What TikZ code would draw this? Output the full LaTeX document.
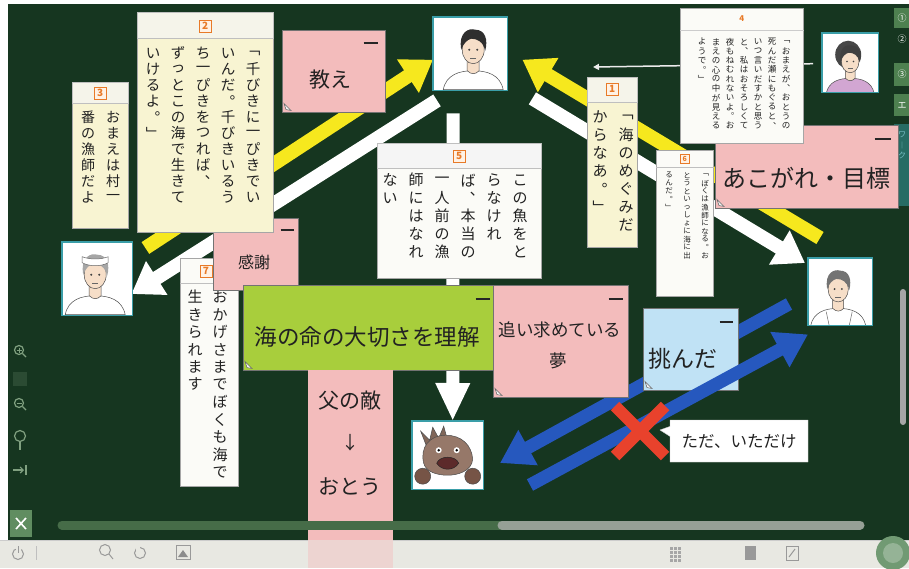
\documentclass[tikz,border=0pt]{standalone}
\usepackage{fontspec}
\setmainfont{Noto Sans CJK JP}
\usetikzlibrary{arrows.meta,shapes.callouts}

\definecolor{board}{RGB}{22,54,32}
\definecolor{cream}{RGB}{248,244,210}
\definecolor{creamhead}{RGB}{245,244,234}
\definecolor{paper}{RGB}{251,251,247}
\definecolor{pinknote}{RGB}{243,188,188}
\definecolor{greennote}{RGB}{168,206,60}
\definecolor{bluenote}{RGB}{192,226,245}
\definecolor{yel}{RGB}{246,232,30}
\definecolor{bluearr}{RGB}{38,88,190}
\definecolor{redx}{RGB}{232,66,44}
\definecolor{frame}{RGB}{58,158,168}
\definecolor{orangenum}{RGB}{232,122,40}
\definecolor{toolbar}{RGB}{232,232,226}
\definecolor{tabgreen}{RGB}{78,128,80}
\definecolor{tabteal}{RGB}{38,108,100}
\definecolor{ink}{RGB}{34,34,34}
\definecolor{skin}{RGB}{246,222,200}
\definecolor{fishb}{RGB}{150,120,105}
\definecolor{finc}{RGB}{118,84,70}
\definecolor{mouthc}{RGB}{92,42,42}
\definecolor{icon}{RGB}{128,160,128}
\definecolor{sbgreen}{RGB}{70,108,72}
\definecolor{sbgray}{RGB}{150,160,150}

% one column of vertical writing: #1 = cell size, #2 = characters
\makeatletter
\newcommand\tatecol[2]{\vtop{\offinterlineskip\def\tate@p{#1}\expandafter\tate@#2\@nil}}
\def\tate@#1{\ifx\@nil#1\else\hbox to \tate@p{\hss\vbox to \tate@p{\vss\hbox{#1}\vss}\hss}\expandafter\tate@\fi}
\makeatother

\tikzset{
  portrait/.pic={
    \filldraw[fill=shirtc, draw=black!70, line width=0.5pt]
      (-30,36) .. controls (-27,21) and (-14,17) .. (0,17) .. controls (14,17) and (27,21) .. (30,36) -- cycle;
    \filldraw[fill=skin, draw=black!70, line width=0.5pt]
      (-6,4) -- (-6,17) .. controls (-2,21) and (2,21) .. (6,17) -- (6,4) -- cycle;
    \filldraw[fill=skin, draw=black!70, line width=0.5pt] (0,-4) ellipse (11 and 14);
    \fill[hairc] (-12,-4) .. controls (-15,-22) and (-4,-26) .. (2,-24)
      .. controls (12,-24) and (15,-14) .. (12,-3) .. controls (10,-12) and (4,-15) .. (-2,-15)
      .. controls (-6,-14) and (-10,-10) .. cycle;
    \fill[black!75] (-4,-4) circle (1.1) (4,-4) circle (1.1);
    \draw[black!60, line width=0.5pt] (-3,5) -- (3,5);
  }
}

\begin{document}
\begin{tikzpicture}[x=1pt,y=-1pt,
  card/.style={draw=black!35, line width=0.5pt, fill=#1, inner sep=0pt, anchor=north west},
  headfill/.style={fill=creamhead, draw=black!25, line width=0.4pt},
  numbox/.style={draw=orangenum, line width=0.8pt, fill=white!90!orange, text=orangenum,
    font=\fontsize{10}{10}\selectfont\bfseries, inner sep=0pt, minimum size=12},
  tate/.style={inner sep=0pt, anchor=north, text=ink},
  note/.style={fill=#1, draw=black!55, line width=0.5pt, inner sep=0pt, anchor=north west},
  notetext/.style={text=ink, inner sep=0pt},
  minusmark/.style={line width=1.6pt, black!85},
  curl/.style={fill=white!92!gray, draw=black!60, line width=0.5pt},
  pbox/.style={fill=white, inner sep=0pt, anchor=north west},
  pframe/.style={draw=frame, line width=1.6pt},
  bigarrow/.style={line width=14pt, -{Triangle[length=30pt,width=38pt]}},
  bluearrow/.style={line width=13pt, bluearr, -{Triangle[length=32pt,width=38pt]}},
  iconline/.style={draw=icon, line width=1.2pt},
  tbicon/.style={draw=black!40, line width=1pt},
]
\useasboundingbox (0,0) rectangle (909,568);
\fill[white] (0,0) rectangle (909,568);
\fill[board] (8,4) rectangle (909,540);

% ---------- side tabs ----------
\fill[tabgreen] (894,8) rectangle (909,28);
\node[text=white!80, font=\fontsize{9}{9}\selectfont, inner sep=0pt] (tab1) at (902,18) {①};
\node[text=white!70, font=\fontsize{9}{9}\selectfont, inner sep=0pt] (tab2) at (902,39) {②};
\fill[tabgreen] (894,63) rectangle (909,86);
\node[text=white!80, font=\fontsize{9}{9}\selectfont, inner sep=0pt] (tab3) at (902,74) {③};
\fill[tabgreen] (894,94) rectangle (909,116);
\node[text=white!80, font=\fontsize{9}{9}\selectfont, inner sep=0pt] (tab4) at (902,105) {エ};
\fill[tabteal] (894,124) rectangle (909,206);
\node[text=frame!70!white, font=\fontsize{8}{8}\selectfont, inner sep=0pt, anchor=north] (tab5) at (902,130) {\tatecol{10pt}{ワ︱ク}};
\draw[line width=6pt, line cap=round, black!35] (903,292) -- (903,422);

% ---------- left tools ----------
\draw[iconline] (19,350) circle (4.5); \draw[iconline] (22.5,353.5) -- (26,357);
\draw[icon, line width=0.9pt] (16.5,350) -- (21.5,350) (19,347.5) -- (19,352.5);
\fill[board!80!icon] (13,372) rectangle (27,386);
\draw[iconline] (19,403) circle (4.5); \draw[iconline] (22.5,406.5) -- (26,410);
\draw[icon, line width=0.9pt] (16.5,403) -- (21.5,403);
\draw[iconline] (20,436) circle (5.5); \draw[iconline] (20,441.5) -- (20,450);
\draw[iconline, -{Straight Barb[length=3pt]}] (13,470) -- (24,470); \draw[iconline] (26,465) -- (26,475);
\fill[tabgreen!90!white] (10,510) rectangle (32,537);
\draw[white, line width=1.6pt] (16,518) -- (26,529) (26,518) -- (16,529);

% ---------- arrows behind the cards ----------
\node[pbox, minimum width=74, minimum height=73] (young) at (433,17) {};
\node[pbox, minimum width=70, minimum height=73] (oldman) at (62,242) {};
\node[pbox, minimum width=64, minimum height=67] (rightman) at (808,258) {};
\node[pbox, minimum width=56, minimum height=59] (woman) at (822,33) {};
\node[pbox, minimum width=71, minimum height=68] (fish) at (412,421) {};

\coordinate (yl0) at ([shift={(13,6)}]oldman.north east);
\coordinate (yl1) at ([shift={(0,6)}]young.west);
\coordinate (wl0) at ([shift={(4,10)}]young.south west);
\coordinate (wl1) at ([shift={(-1,52)}]oldman.north east);
\coordinate (yr0) at ([shift={(12,-20)}]rightman.north west);
\coordinate (yr1) at ([shift={(15,6)}]young.east);
\coordinate (wr0) at ([shift={(25,8)}]young.south east);
\coordinate (wr1) at ([shift={(-3,5)}]rightman.north west);
\coordinate (wd0) at ([shift={(-17,23)}]young.south);
\coordinate (wd1) at ([shift={(5,0)}]fish.north);
\coordinate (tw0) at ([shift={(-9,1)}]woman.west);
\coordinate (tw1) at (593,67);

\draw[bigarrow, yel] (yl0) -- (yl1);
\draw[bigarrow, white] (wl0) -- (wl1);
\draw[bigarrow, yel] (yr0) -- (yr1);
\draw[bigarrow, white] (wr0) -- (wr1);
\draw[line width=13pt, white, -{Triangle[length=38pt,width=32pt]}] (wd0) -- (wd1);
\draw[line width=1.5pt, white!85!gray, -{Triangle[length=6pt,width=6pt]}] (tw0) -- (tw1);

% ---------- portraits ----------
\begin{scope}
  \clip (young.north west) rectangle (young.south east);
  \colorlet{hairc}{black!82}\colorlet{shirtc}{white}
  \pic at ([shift={(3,0)}]young.center) {portrait};
\end{scope}
\draw[pframe] (young.north west) rectangle (young.south east);

\begin{scope}
  \clip (oldman.north west) rectangle (oldman.south east);
  \colorlet{hairc}{black!35}\colorlet{shirtc}{white}
  \pic at ([shift={(-2,0)}]oldman.center) {portrait};
  \filldraw[fill=white, draw=black!60, line width=0.5pt]
    ([shift={(-15,-16)}]oldman.center) .. controls ([shift={(-8,-12)}]oldman.center) and ([shift={(4,-12)}]oldman.center) .. ([shift={(11,-16)}]oldman.center)
    -- ([shift={(11,-22)}]oldman.center) .. controls ([shift={(4,-19)}]oldman.center) and ([shift={(-8,-19)}]oldman.center) .. ([shift={(-15,-22)}]oldman.center) -- cycle;
\end{scope}
\draw[pframe] (oldman.north west) rectangle (oldman.south east);

\begin{scope}
  \clip (rightman.north west) rectangle (rightman.south east);
  \colorlet{hairc}{black!55}\colorlet{shirtc}{white}
  \pic[scale=0.92] at ([shift={(-2,1)}]rightman.center) {portrait};
  \draw[black!60, line width=0.5pt] ([shift={(-14,20)}]rightman.center) -- ([shift={(-11,34)}]rightman.center)
    ([shift={(12,20)}]rightman.center) -- ([shift={(9,34)}]rightman.center);
\end{scope}
\draw[pframe] (rightman.north west) rectangle (rightman.south east);

\begin{scope}
  \clip (woman.north west) rectangle (woman.south east);
  \colorlet{hairc}{black!75}\colorlet{shirtc}{violet!35!white}
  \fill[black!72] ([shift={(-2,-8)}]woman.center) ellipse (13 and 14);
  \pic[scale=0.8] at ([shift={(0,2)}]woman.center) {portrait};
\end{scope}
\draw[pframe] (woman.north west) rectangle (woman.south east);

% fish
\begin{scope}[shift={(fish.center)}]
  \filldraw[fill=fishb!85!black, draw=black!70, line width=0.5pt]
    (-20,-6) -- (-27,-24) -- (-18,-15) -- (-15,-28) -- (-9,-17) -- (-4,-29) -- (-1,-18) -- cycle;
  \filldraw[fill=fishb, draw=black!70, line width=0.5pt]
    (-24,8) .. controls (-28,-8) and (-18,-20) .. (-2,-20) .. controls (14,-20) and (24,-10) .. (25,4)
    .. controls (24,16) and (10,20) .. (0,20) .. controls (-12,20) and (-22,16) .. cycle;
  \filldraw[fill=mouthc, draw=black!85, line width=0.5pt]
    (-11,8) .. controls (-8,0) and (8,0) .. (11,8) .. controls (6,16) and (-6,16) .. cycle;
  \fill[white] (-9,-5) circle (3) (9,-5) circle (3);
  \fill[black] (-9,-5) circle (1.4) (9,-5) circle (1.4);
  \filldraw[fill=finc, draw=black!70, line width=0.5pt] (-25,21) circle (8) (25,21) circle (8);
\end{scope}
\draw[pframe] (fish.north west) rectangle (fish.south east);

% ---------- card 7 and 感謝 ----------
\node[card=paper, minimum width=58, minimum height=228] (c7) at (180,258) {};
\draw[black!25, line width=0.4pt] ([shift={(0,25)}]c7.north west) -- ([shift={(0,25)}]c7.north east);
\node[numbox] (n7) at (206,271) {7};
\foreach \t [count=\i] in {おかげさまでぼくも海で,生きられます}
  \node[tate, font=\fontsize{15}{15}\selectfont] (c7-\i) at ({220-25*(\i-1)},288) {\tatecol{17.5pt}{\t}};

\node[note=pinknote, minimum width=85, minimum height=72] (kansha) at (213,218) {};
\node[notetext, font=\fontsize{16}{16}\selectfont] (kansha-t) at (254,262) {感謝};
\draw[minusmark] ([shift={(-18,12)}]kansha.north east) -- ([shift={(-5,12)}]kansha.north east);

% ---------- card 2 ----------
\node[card=cream, minimum width=136, minimum height=220] (c2) at (137,12) {};
\filldraw[headfill] (c2.north west) rectangle ([shift={(0,26)}]c2.north east);
\node[numbox] (n2) at ([shift={(0,14)}]c2.north) {2};
\foreach \t [count=\i] in {﹁千びきに一ぴきでい,いんだ︒千びきいるう,ち一ぴきをつれば︑,ずっとこの海で生きて,いけるよ︒﹂}
  \node[tate, font=\fontsize{14.5}{14.5}\selectfont] (c2-\i) at ({253-25*(\i-1)},45) {\tatecol{16pt}{\t}};

% ---------- card 3 ----------
\node[card=cream, minimum width=56, minimum height=146] (c3) at (72,82) {};
\filldraw[headfill] (c3.north west) rectangle ([shift={(0,21)}]c3.north east);
\node[numbox] (n3) at ([shift={(0,11)}]c3.north) {3};
\foreach \t [count=\i] in {おまえは村一,番の漁師だよ}
  \node[tate, font=\fontsize{14}{14}\selectfont] (c3-\i) at ({113-25*(\i-1)},109) {\tatecol{16pt}{\t}};

% ---------- 教え ----------
\node[note=pinknote, minimum width=103, minimum height=82] (oshie) at (282,30) {};
\node[notetext, font=\fontsize{21}{21}\selectfont] (oshie-t) at (330,80) {教え};
\draw[minusmark] ([shift={(-22,13)}]oshie.north east) -- ([shift={(-8,13)}]oshie.north east);
\draw[curl] ([shift={(2,-9)}]oshie.south west) -- ([shift={(9,-2)}]oshie.south west) -- ([shift={(4,-3)}]oshie.south west) -- cycle;

% ---------- card 5 ----------
\node[card=paper, minimum width=164, minimum height=135] (c5) at (377,143) {};
\filldraw[fill=white!92!gray, draw=black!25, line width=0.4pt] (c5.north west) rectangle ([shift={(0,25)}]c5.north east);
\node[numbox] (n5) at ([shift={(0,13)}]c5.north) {5};
\foreach \t [count=\i] in {この魚をと,らなけれ,ば︑本当の,一人前の漁,師にはなれ,ない}
  \node[tate, font=\fontsize{15}{15}\selectfont] (c5-\i) at ({520-26*(\i-1)},171) {\tatecol{18pt}{\t}};

% ---------- あこがれ・目標 ----------
\node[note=pinknote, minimum width=183, minimum height=83] (akogare) at (715,125) {};
\node[notetext, font=\fontsize{24}{24}\selectfont] (akogare-t) at (806,178) {あこがれ・目標};
\draw[minusmark] ([shift={(-24,14)}]akogare.north east) -- ([shift={(-8,14)}]akogare.north east);
\draw[curl] ([shift={(2,-9)}]akogare.south west) -- ([shift={(9,-2)}]akogare.south west) -- ([shift={(4,-3)}]akogare.south west) -- cycle;

% ---------- card 4 ----------
\node[card=paper, minimum width=123, minimum height=135] (c4) at (680,8) {};
\draw[black!20, line width=0.4pt] ([shift={(0,22)}]c4.north west) -- ([shift={(0,22)}]c4.north east);
\node[text=orangenum, font=\fontsize{8}{8}\selectfont\bfseries, inner sep=0pt] (n4) at ([shift={(0,11)}]c4.north) {4};
\foreach \t [count=\i] in {﹁おまえが︑おとうの,死んだ瀬にもぐると︑,いつ言いだすかと思う,と︑私はおそろしくて,夜もねむれないよ︒お,まえの心の中が見える,ようで︒﹂}
  \node[tate, font=\fontsize{8.5}{8.5}\selectfont] (c4-\i) at ({786-14*(\i-1)},37) {\tatecol{9.3pt}{\t}};

% ---------- card 1 ----------
\node[card=cream, minimum width=50, minimum height=170] (c1) at (587,77) {};
\filldraw[headfill] (c1.north west) rectangle ([shift={(0,25)}]c1.north east);
\node[numbox] (n1) at ([shift={(0,12)}]c1.north) {1};
\foreach \t [count=\i] in {﹁海のめぐみだ,からなあ︒﹂}
  \node[tate, font=\fontsize{15}{15}\selectfont] (c1-\i) at ({626-26*(\i-1)},108) {\tatecol{18pt}{\t}};

% ---------- card 6 ----------
\node[card=paper, minimum width=57, minimum height=146] (c6) at (656,150) {};
\draw[black!25, line width=0.4pt] ([shift={(0,17)}]c6.north west) -- ([shift={(0,17)}]c6.north east);
\node[numbox, minimum size=9, font=\fontsize{7}{7}\selectfont\bfseries] (n6) at ([shift={(0,9)}]c6.north) {6};
\foreach \t [count=\i] in {﹁ぼくは漁師になる︒お,とうといっしょに海に出,るんだ︒﹂}
  \node[tate, font=\fontsize{7.5}{7.5}\selectfont] (c6-\i) at ({705-18*(\i-1)},171) {\tatecol{8pt}{\t}};

% ---------- 海の命の大切さを理解 ----------
\node[note=greennote, minimum width=252, minimum height=85] (inochi) at (243,285) {};
\node[notetext, font=\fontsize{22.5}{22.5}\selectfont] (inochi-t) at (367,337) {海の命の大切さを理解};
\draw[minusmark] ([shift={(-20,14)}]inochi.north east) -- ([shift={(-6,14)}]inochi.north east);
\draw[curl] ([shift={(2,-9)}]inochi.south west) -- ([shift={(9,-2)}]inochi.south west) -- ([shift={(4,-3)}]inochi.south west) -- cycle;

% ---------- 父の敵 ----------
\node[note=pinknote, draw=none, minimum width=85, minimum height=170] (kataki) at (308,370) {};
\node[notetext, font=\fontsize{21}{21}\selectfont] (kataki-1) at (350,401) {父の敵};
\node[notetext, font=\fontsize{18}{18}\selectfont] (kataki-2) at (350,443) {↓};
\node[notetext, font=\fontsize{21}{21}\selectfont] (kataki-3) at (350,487) {おとう};

% ---------- blue arrow running under the notes ----------
\coordinate (ba0) at ([shift={(-19,46)}]rightman.north west);
\coordinate (ba1) at (500,463);
\draw[bluearrow] (ba0) -- (ba1);

% ---------- 追い求めている夢 ----------
\node[note=pinknote, minimum width=135, minimum height=112] (yume) at (493,285) {};
\node[notetext, font=\fontsize{17.5}{17.5}\selectfont] (yume-1) at (560,330) {追い求めている};
\node[notetext, font=\fontsize{17.5}{17.5}\selectfont] (yume-2) at (558,361) {夢};
\draw[minusmark] ([shift={(-20,14)}]yume.north east) -- ([shift={(-6,14)}]yume.north east);
\draw[curl] ([shift={(2,-9)}]yume.south west) -- ([shift={(9,-2)}]yume.south west) -- ([shift={(4,-3)}]yume.south west) -- cycle;

% ---------- 挑んだ ----------
\node[note=bluenote, minimum width=95, minimum height=82] (idonda) at (643,308) {};
\node[notetext, font=\fontsize{23}{23}\selectfont] (idonda-t) at (683,359) {挑んだ};
\draw[minusmark] ([shift={(-19,14)}]idonda.north east) -- ([shift={(-6,14)}]idonda.north east);
\draw[curl] ([shift={(2,-9)}]idonda.south west) -- ([shift={(9,-2)}]idonda.south west) -- ([shift={(4,-3)}]idonda.south west) -- cycle;

% ---------- second blue arrow, cross and callout ----------
\coordinate (bb0) at (530,485);
\coordinate (bb1) at ([shift={(0,9)}]rightman.south west);
\draw[bluearrow] (bb0) -- (bb1);

\coordinate (xc) at (640,431);
\draw[redx, line width=12pt] ([shift={(-25,-25)}]xc) -- ([shift={(25,25)}]xc)
  ([shift={(-25,25)}]xc) -- ([shift={(25,-25)}]xc);

\node[rectangle callout, fill=white, draw=black!20, line width=0.4pt, minimum width=138, minimum height=42,
  callout absolute pointer={(660,430)}, callout pointer width=10pt,
  font=\fontsize{16.5}{16.5}\selectfont, text=ink, inner sep=0pt] (tada) at (739,441) {ただ、いただけ};

% ---------- scroll bar and tool bar ----------
\draw[line width=9pt, line cap=round, sbgreen] (62,525) -- (500,525);
\draw[line width=9pt, line cap=round, sbgray] (502,525) -- (860,525);
\fill[toolbar] (0,540) rectangle (909,568);
\draw[black!20, line width=0.6pt] (0,540) -- (909,540);
\fill[pinknote!45!toolbar] (308,540) rectangle (393,568);
\draw[tbicon] (18,554) circle (5.5); \fill[toolbar] (15.5,546) rectangle (20.5,551); \draw[tbicon] (18,546) -- (18,553);
\draw[black!25, line width=0.8pt] (36,546) -- (36,560);
\draw[tbicon] (105,550) circle (5.5); \draw[tbicon] (109,554) -- (113,559);
\draw[tbicon] (140,553) circle (5.5); \fill[toolbar] (136,546) rectangle (140,551);
\draw[tbicon] (176,545) rectangle (190,559); \fill[black!45] (178,557) -- (183,550) -- (188,557) -- cycle;
\foreach \gx in {0,1,2} \foreach \gy in {0,1,2,3}
  \fill[black!35] ({670+4*\gx},{547+4*\gy}) rectangle ({672.5+4*\gx},{549.5+4*\gy});
\fill[black!40] (745,546) rectangle (756,560);
\draw[tbicon] (786,546) rectangle (798,560); \draw[tbicon] (789,557) -- (795,549);
\fill[tabgreen!80!white] (893,553) circle (17);
\fill[tabgreen!60!white] (893,553) circle (10);
\end{tikzpicture}
\end{document}
